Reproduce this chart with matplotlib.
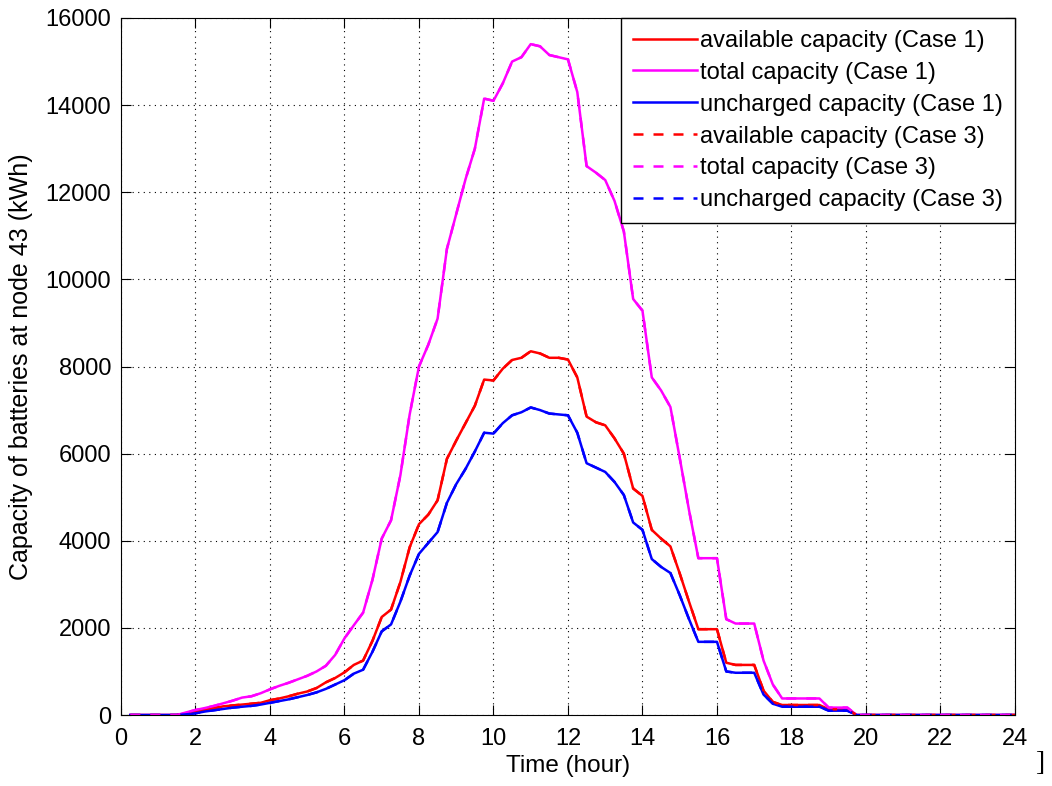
import numpy as np
import matplotlib
matplotlib.use('Agg')
import matplotlib.pyplot as plt

plt.rcParams['font.family'] = ['Liberation Sans', 'DejaVu Sans']

# Time axis (15 min steps)
hours = np.arange(1, 97) * 0.25

# Total capacity (kWh)
total = [0, 0, 0, 0, 0, 0,
         60, 115, 160, 210, 270, 330, 400, 430, 500, 590, 670, 740, 820, 900,
         1000, 1130, 1380, 1760, 2060, 2350, 3100, 4050, 4470, 5500, 6900, 8000,
         8500, 9100, 10700, 11500, 12300, 13000, 14150, 14100, 14500, 15000, 15100, 15400,
         15350, 15150, 15100, 15050, 14300, 12600, 12450, 12280, 11800, 11100, 9550, 9280,
         7750, 7450, 7070, 5900, 4700, 3600, 3600, 3600, 2200, 2100, 2100, 2100,
         1250, 700, 380, 380, 380, 380, 380, 170, 170, 170, 0,
         0, 0, 0, 0, 0, 0, 0, 0, 0, 0, 0, 0, 0, 0, 0, 0, 0]

# Available capacity (kWh)
available = [0, 0, 0, 0, 0, 0,
             40, 76, 120, 160, 200, 220, 240, 260, 280, 340, 380, 430, 490, 540,
             620, 750, 850, 980, 1150, 1250, 1700, 2250, 2420, 3050, 3850, 4380,
             4600, 4930, 5880, 6300, 6700, 7100, 7700, 7680, 7950, 8150, 8200, 8350,
             8300, 8200, 8200, 8160, 7750, 6850, 6720, 6650, 6350, 6000, 5200, 5030,
             4250, 4050, 3870, 3250, 2600, 1970, 1970, 1970, 1200, 1150, 1150, 1150,
             560, 300, 230, 230, 230, 230, 230, 130, 130, 130, 0,
             0, 0, 0, 0, 0, 0, 0, 0, 0, 0, 0, 0, 0, 0, 0, 0, 0]

# Uncharged capacity (kWh)
uncharged = [0, 0, 0, 0, 0, 0,
             15, 40, 80, 110, 140, 170, 190, 210, 240, 280, 320, 360, 410, 460,
             520, 600, 700, 800, 950, 1040, 1450, 1920, 2080, 2600, 3200, 3700,
             3950, 4200, 4870, 5300, 5650, 6050, 6480, 6460, 6700, 6880, 6950, 7060,
             7000, 6920, 6900, 6880, 6480, 5780, 5680, 5580, 5350, 5050, 4420, 4250,
             3580, 3400, 3260, 2750, 2200, 1680, 1680, 1680, 1000, 970, 970, 970,
             470, 260, 190, 190, 190, 190, 190, 100, 100, 100, 0,
             0, 0, 0, 0, 0, 0, 0, 0, 0, 0, 0, 0, 0, 0, 0, 0, 0]

# Case 3 gives the same curves
available3 = available
total3 = total
uncharged3 = uncharged

fig = plt.figure(figsize=(10.52, 7.86), dpi=100)
ax = fig.add_axes([0.115, 0.0903, 0.8498, 0.8868])

lw = 1.8
h1, = ax.plot(hours, available, color='#ff0000', lw=lw, label='available capacity (Case 1)')
h2, = ax.plot(hours, total, color='#ff00ff', lw=lw, label='total capacity (Case 1)')
h3, = ax.plot(hours, uncharged, color='#0000ff', lw=lw, label='uncharged capacity (Case 1)')
h4, = ax.plot(hours, available3, color='#ff0000', lw=lw, ls=(0, (4, 4)), label='available capacity (Case 3)')
h6, = ax.plot(hours, uncharged3, color='#0000ff', lw=lw, ls=(0, (4, 4)), label='uncharged capacity (Case 3)')
h5, = ax.plot(hours, total3, color='#ff00ff', lw=lw, ls=(0, (4, 4)), label='total capacity (Case 3)')

ax.set_xlim(0, 24)
ax.set_ylim(0, 16000)
ax.set_xticks(np.arange(0, 25, 2))
ax.set_yticks(np.arange(0, 16001, 2000))
ax.grid(True, color='black', linestyle=(0, (1, 4)), linewidth=0.8)
ax.tick_params(direction='in', top=True, right=True, labelsize=17, length=7, width=0.8)
ax.tick_params(axis='x', pad=9)
ax.tick_params(axis='y', pad=7)
for s in ax.spines.values():
    s.set_linewidth(0.8)

ax.set_xlabel('Time (hour)', fontsize=17.5, labelpad=4)
ax.set_ylabel('Capacity of batteries at node 43 (kWh)', fontsize=18, labelpad=9)

leg = ax.legend(handles=[h1, h2, h3, h4, h5, h6], loc='upper right', fontsize=17,
                fancybox=False, framealpha=1, edgecolor='black', borderaxespad=0,
                handlelength=2.7, handletextpad=0.15, labelspacing=0.42, borderpad=0.5)
leg.get_frame().set_linewidth(1.0)

fig.text(0.984, 0.02, ']', fontsize=20, family='Liberation Serif')

fig.savefig('out.png', dpi=100)
